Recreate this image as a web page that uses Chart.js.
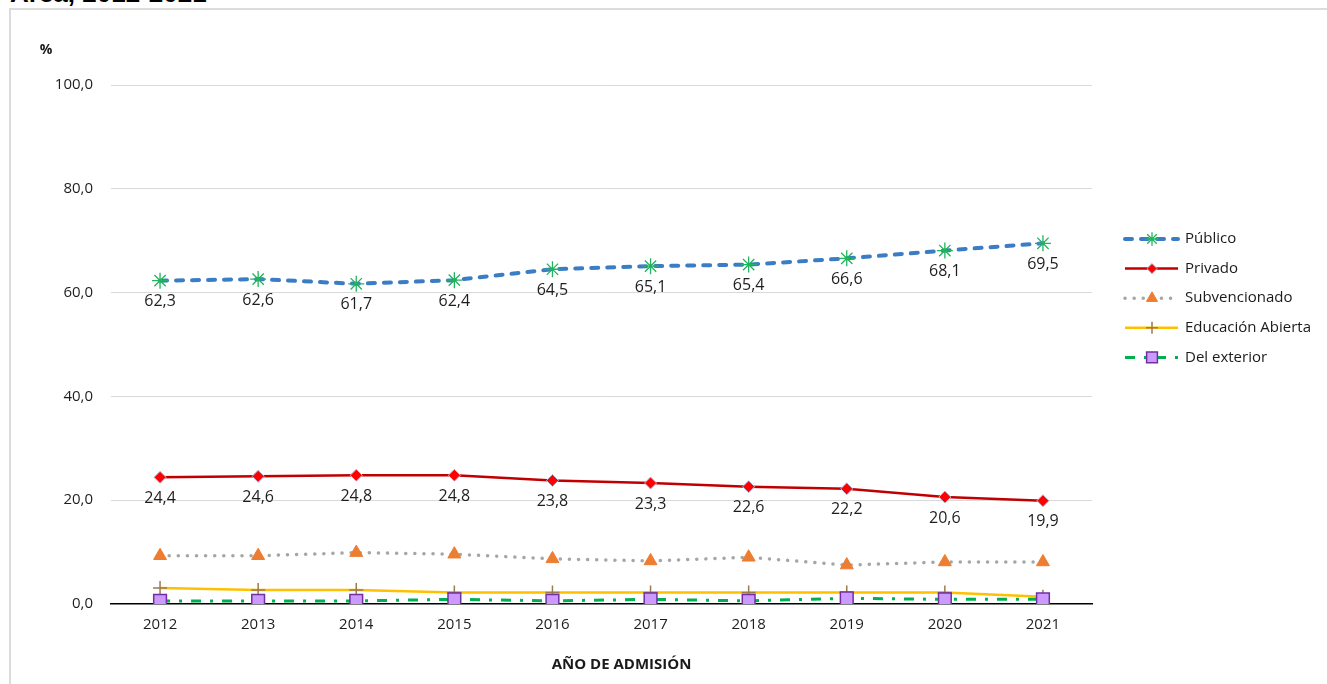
<!DOCTYPE html>
<html lang="es">
<head>
<meta charset="utf-8">
<title>Año de admisión</title>
<script src="https://cdn.jsdelivr.net/npm/chart.js@4.4.1/dist/chart.umd.min.js"></script>
<style>
  html, body { margin: 0; padding: 0; background: #fff; overflow: hidden; }
  #wrap { position: relative; width: 1327px; height: 684px; overflow: hidden; }
  #title { position: absolute; left: 10px; top: -20px; font: bold 26px/26px "Liberation Sans", Arial, sans-serif; color: #000; white-space: nowrap; }
  #frame { position: absolute; left: 9px; top: 8px; width: 1400px; height: 720px; border: 2px solid #dcdcdc; box-sizing: border-box; }
  canvas { position: absolute; left: 0; top: 0; }
</style>
</head>
<body>
<div id="wrap">
  <div id="title">Área, 2012-2021</div>
  <div id="frame"></div>
  <canvas id="chart" width="1327" height="684"></canvas>
</div>
<script>
const years = ["2012", "2013", "2014", "2015", "2016", "2017", "2018", "2019", "2020", "2021"];
const publico = [62.3, 62.6, 61.7, 62.4, 64.5, 65.1, 65.4, 66.6, 68.1, 69.5];
const privado = [24.4, 24.6, 24.8, 24.8, 23.8, 23.3, 22.6, 22.2, 20.6, 19.9];
const subvencionado = [9.3, 9.3, 9.9, 9.6, 8.7, 8.3, 9.0, 7.5, 8.1, 8.1];
const abierta = [3.1, 2.7, 2.7, 2.2, 2.2, 2.2, 2.2, 2.2, 2.2, 1.4];
const exterior = [0.6, 0.6, 0.6, 0.9, 0.6, 0.9, 0.6, 1.1, 0.9, 0.9];
const yTicks = [0, 20, 40, 60, 80, 100];

const FONT = '"Open Sans", "Noto Sans", sans-serif';
const fmt = v => Number(v).toFixed(1).replace(".", ",");

/* value labels under Público and Privado */
const valueLabels = {
  id: "valueLabels",
  afterDatasetsDraw(chart) {
    const ctx = chart.ctx;
    ctx.save();
    ctx.font = "16px " + FONT;
    ctx.fillStyle = "#1e1e1e";
    ctx.textAlign = "center";
    ctx.textBaseline = "middle";
    chart.data.datasets.forEach((ds, i) => {
      if (!ds.showValues) return;
      chart.getDatasetMeta(i).data.forEach((pt, j) => {
        ctx.fillText(fmt(ds.data[j]), pt.x, pt.y + 21);
      });
    });
    ctx.restore();
  }
};

/* legend on the right, axis captions */
const extras = {
  id: "extras",
  afterDraw(chart) {
    const ctx = chart.ctx;
    const area = chart.chartArea;
    const lx = area.right + 33;

    chart.data.datasets.forEach((ds, i) => {
      const y = 239 + i * 29.6;
      ctx.save();
      ctx.strokeStyle = ds.borderColor;
      ctx.lineWidth = ds.borderWidth;
      ctx.lineCap = ds.borderCapStyle || "butt";
      ctx.setLineDash(ds.borderDash || []);
      ctx.beginPath();
      ctx.moveTo(lx, y);
      ctx.lineTo(lx + 53, y);
      ctx.stroke();
      ctx.setLineDash([]);
      ctx.lineCap = "butt";
      ctx.fillStyle = ds.pointBackgroundColor;
      ctx.strokeStyle = ds.pointBorderColor;
      ctx.lineWidth = ds.pointBorderWidth;
      Chart.helpers.drawPoint(ctx, {
        pointStyle: ds.pointStyle,
        radius: ds.pointRadius * 0.85,
        rotation: 0,
        borderWidth: ds.pointBorderWidth
      }, lx + 27, y);
      ctx.fillStyle = "#1a1a1a";
      ctx.font = "15px " + FONT;
      ctx.textAlign = "left";
      ctx.textBaseline = "middle";
      ctx.fillText(ds.label, lx + 60, y);
      ctx.restore();
    });

    ctx.save();
    ctx.fillStyle = "#1a1a1a";
    ctx.textAlign = "center";
    ctx.textBaseline = "middle";
    ctx.font = "bold 14px " + FONT;
    ctx.fillText("%", 46, 50);
    ctx.font = "bold 15px " + FONT;
    ctx.fillText("AÑO DE ADMISIÓN", (area.left + area.right) / 2 + 20, 665);
    ctx.restore();
  }
};

new Chart(document.getElementById("chart"), {
  type: "line",
  data: {
    labels: years,
    datasets: [
      {
        label: "Público", data: publico, showValues: true, order: 4,
        borderColor: "#3b7dc4", borderWidth: 4, borderDash: [7, 9], borderCapStyle: "round",
        pointStyle: "star", pointRadius: 8, pointBorderColor: "#22b35e", pointBackgroundColor: "#22b35e", pointBorderWidth: 1.3
      },
      {
        label: "Privado", data: privado, showValues: true, order: 3,
        borderColor: "#c00000", borderWidth: 2.5,
        pointStyle: "rectRot", pointRadius: 6, pointBorderColor: "#a9bde0", pointBackgroundColor: "#ff0000", pointBorderWidth: 1
      },
      {
        label: "Subvencionado", data: subvencionado, order: 2,
        borderColor: "#a6a6a6", borderWidth: 3.5, borderDash: [0.1, 9], borderCapStyle: "round",
        pointStyle: "triangle", pointRadius: 7.5, pointBorderColor: "#ed7d31", pointBackgroundColor: "#ed7d31", pointBorderWidth: 1
      },
      {
        label: "Educación Abierta", data: abierta, order: 1,
        borderColor: "#ffc000", borderWidth: 2.5,
        pointStyle: "cross", pointRadius: 7, pointBorderColor: "#9c7a4c", pointBackgroundColor: "#9c7a4c", pointBorderWidth: 1.5
      },
      {
        label: "Del exterior", data: exterior, order: 0,
        borderColor: "#00b050", borderWidth: 3, borderDash: [10, 9, 3, 9],
        pointStyle: "rect", pointRadius: 9, pointBorderColor: "#7030a0", pointBackgroundColor: "#cc99ff", pointBorderWidth: 1.5
      }
    ]
  },
  options: {
    responsive: false,
    animation: false,
    devicePixelRatio: 1,
    layout: { padding: { top: 85, right: 235, left: 0, bottom: 0 } },
    elements: { line: { tension: 0 } },
    plugins: { legend: { display: false }, tooltip: { enabled: false } },
    scales: {
      x: {
        offset: true,
        afterFit: s => { s.height = 80; },
        grid: { display: false, drawTicks: false },
        border: { display: true, color: "#000", width: 1.5 },
        ticks: { padding: 12, color: "#1e1e1e", font: { family: FONT, size: 15 } }
      },
      y: {
        min: 0,
        max: 100,
        afterFit: s => { s.width = 111; },
        afterBuildTicks: s => { s.ticks = yTicks.map(v => ({ value: v })); },
        grid: { color: c => c.tick && c.tick.value === 0 ? "rgba(0,0,0,0)" : "#d9d9d9", lineWidth: 1, drawTicks: false },
        border: { display: false },
        ticks: { padding: 18, color: "#1e1e1e", font: { family: FONT, size: 15 }, callback: v => fmt(v) }
      }
    }
  },
  plugins: [valueLabels, extras]
});
</script>
</body>
</html>
